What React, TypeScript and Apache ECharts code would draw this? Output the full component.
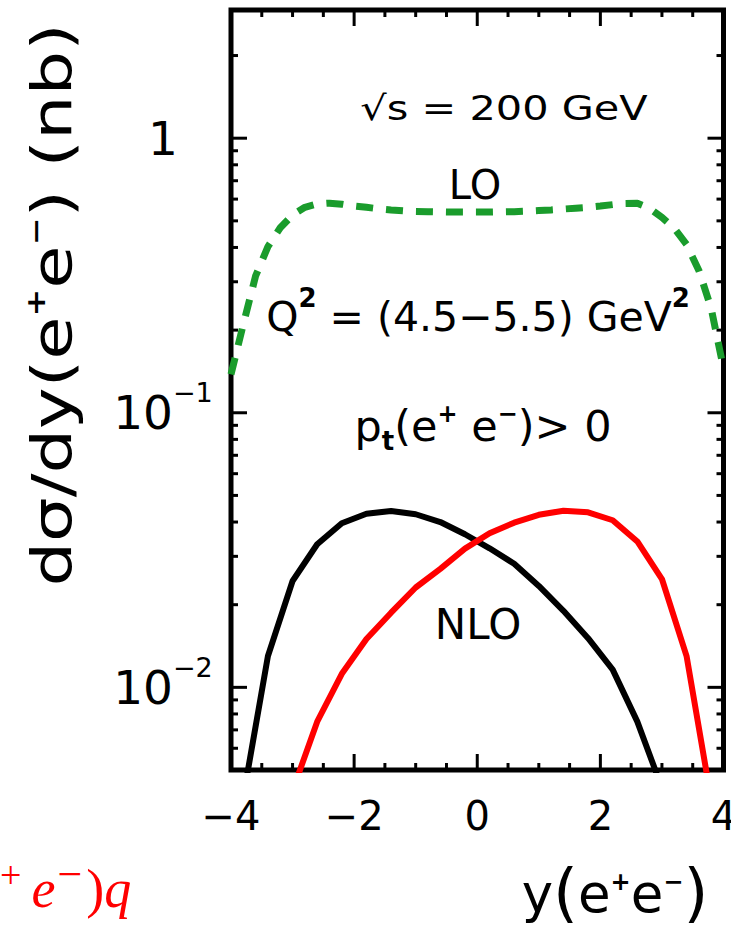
import React, { useEffect, useRef } from 'react';
import * as echarts from 'echarts';

// axis ranges
const xRange = [-4, 4];
const yRange = [0.005, 2.93];
const xTickLabels = [-4, -2, 0, 2, 4];

// NLO black curve
const nloBlackX = [-3.8, -3.4, -3.0, -2.6, -2.2, -1.8, -1.4, -1.0, -0.6, -0.2, 0.2, 0.6, 1.0, 1.4, 1.8, 2.2, 2.6, 3.0];
const nloBlackY = [0.0040, 0.0130, 0.0244, 0.0332, 0.0396, 0.0429, 0.0439, 0.0427, 0.0400, 0.0361, 0.0321, 0.0282, 0.0234, 0.0190, 0.0151, 0.0116, 0.0075, 0.0043];

// NLO red curve
const nloRedX = [-3.0, -2.6, -2.2, -1.8, -1.4, -1.0, -0.6, -0.2, 0.2, 0.6, 1.0, 1.4, 1.8, 2.2, 2.6, 3.0, 3.4, 3.8];
const nloRedY = [0.0042, 0.0075, 0.0112, 0.0150, 0.0187, 0.0231, 0.0270, 0.0320, 0.0364, 0.0398, 0.0425, 0.0440, 0.0434, 0.0406, 0.0340, 0.0248, 0.0130, 0.0039];

// LO green dashed curve
const loX = [-4.0, -3.8, -3.6, -3.4, -3.2, -3.0, -2.8, -2.6, -2.4, -2.2, -2.0, -1.8, -1.6, -1.4, -1.2, -1.0, -0.8, -0.6, -0.4, -0.2, 0.0,
  0.2, 0.4, 0.6, 0.8, 1.0, 1.2, 1.4, 1.6, 1.8, 2.0, 2.2, 2.4, 2.6, 2.8, 3.0, 3.2, 3.4, 3.6, 3.8, 4.0];
const loY = [0.138, 0.21, 0.315, 0.403, 0.472, 0.525, 0.56, 0.576, 0.58, 0.575, 0.566, 0.56, 0.553, 0.548, 0.544, 0.541, 0.540, 0.539, 0.538, 0.538, 0.538,
  0.538, 0.539, 0.540, 0.542, 0.545, 0.548, 0.552, 0.556, 0.560, 0.566, 0.573, 0.578, 0.579, 0.555, 0.515, 0.47, 0.41, 0.33, 0.24, 0.145];

// tick marks
const xMajorTicks = [-2, 0, 2];
const xMinorTicks = [-3.5, -3, -2.5, -1.5, -1, -0.5, 0.5, 1, 1.5, 2.5, 3, 3.5];
const yMajorTicks = [0.01, 0.1, 1];
const yMinorTicks = [0.006, 0.007, 0.008, 0.009, 0.02, 0.03, 0.04, 0.05, 0.06, 0.07, 0.08, 0.09,
  0.2, 0.3, 0.4, 0.5, 0.6, 0.7, 0.8, 0.9, 2];

const FONT = "'DejaVu Sans', sans-serif";
const SERIF = "'Liberation Serif', 'DejaVu Serif', serif";

export default function App() {
  const ref = useRef<HTMLDivElement>(null);
  useEffect(() => {
    const chart = echarts.init(ref.current!, null, { renderer: 'svg' });
    const tickData = [
      ...xMajorTicks.map((v) => [v, yRange[0], 0]),
      ...xMinorTicks.map((v) => [v, yRange[0], 1]),
      ...yMajorTicks.map((v) => [xRange[0], v, 2]),
      ...yMinorTicks.map((v) => [xRange[0], v, 3]),
    ];
    const option: any = {
      animation: false,
      grid: {
        left: 231, top: 10, width: 492.5, height: 760,
        outerBoundsMode: 'none', containLabel: false,
        show: true, borderWidth: 5, borderColor: '#000', backgroundColor: 'transparent',
      },
      xAxis: {
        type: 'value', min: xRange[0], max: xRange[1], interval: 2,
        axisLine: { show: false }, axisTick: { show: false }, splitLine: { show: false },
        axisLabel: {
          margin: 26, fontSize: 40, fontFamily: FONT, color: '#000',
          alignMinLabel: 'center', alignMaxLabel: 'center',
          formatter: (v: number) => (xTickLabels.includes(v) ? (v < 0 ? '\u2212' + Math.abs(v) : String(v)) : ''),
        },
      },
      yAxis: {
        type: 'log', logBase: 10, min: yRange[0], max: yRange[1],
        axisLine: { show: false }, axisTick: { show: false }, splitLine: { show: false },
        axisLabel: {
          showMinLabel: false, showMaxLabel: false, margin: 68, align: 'center',
          formatter: (v: number) => {
            const e = Math.round(Math.log10(v));
            if (e === 0) return '{b|1}';
            return '{b|10}{s|\u2212' + -e + '}';
          },
          rich: {
            b: { fontSize: 47, lineHeight: 47, fontFamily: FONT, color: '#000' },
            s: { fontSize: 27, lineHeight: 27, fontFamily: FONT, color: '#000', padding: [0, 0, 40, 0] },
          },
        },
      },
      series: [
        {
          type: 'custom', silent: true, z: 1,
          data: tickData,
          encode: { x: 0, y: 1 },
          renderItem: (params: any, api: any) => {
            const v0 = api.value(0);
            const v1 = api.value(1);
            const kind = api.value(2);
            const style = { stroke: '#000', lineWidth: 3 };
            if (kind < 2) {
              const len = kind === 0 ? 16 : 7;
              const b = api.coord([v0, yRange[0]]);
              const t = api.coord([v0, yRange[1]]);
              return {
                type: 'group', children: [
                  { type: 'line', shape: { x1: b[0], y1: b[1], x2: b[0], y2: b[1] - len }, style },
                  { type: 'line', shape: { x1: t[0], y1: t[1], x2: t[0], y2: t[1] + len }, style },
                ],
              };
            }
            const len = kind === 2 ? 16 : 7;
            const l = api.coord([xRange[0], v1]);
            const r = api.coord([xRange[1], v1]);
            return {
              type: 'group', children: [
                { type: 'line', shape: { x1: l[0], y1: l[1], x2: l[0] + len, y2: l[1] }, style },
                { type: 'line', shape: { x1: r[0], y1: r[1], x2: r[0] - len, y2: r[1] }, style },
              ],
            };
          },
        },
        {
          type: 'line', name: 'LO', z: 3, showSymbol: false, symbol: 'none', clip: true,
          data: loX.map((x, i) => [x, loY[i]]),
          lineStyle: { color: '#1a9c2c', width: 7, type: [17, 13] },
        },
        {
          type: 'line', name: 'NLO', z: 3, showSymbol: false, symbol: 'none', clip: true,
          data: nloBlackX.map((x, i) => [x, nloBlackY[i]]),
          lineStyle: { color: '#000000', width: 6 },
        },
        {
          type: 'line', name: 'NLO red', z: 3, showSymbol: false, symbol: 'none', clip: true,
          data: nloRedX.map((x, i) => [x, nloRedY[i]]),
          lineStyle: { color: '#ff0000', width: 6 },
        },
      ],
      graphic: [
        {
          type: 'text', x: 504, y: 108, scaleX: 1.22, z: 10,
          style: { text: '\u221As = 200 GeV', fontSize: 34, fontFamily: FONT, fill: '#000', align: 'center', verticalAlign: 'middle' },
        },
        {
          type: 'text', x: 475, y: 185, z: 10,
          style: { text: 'LO', fontSize: 40, fontFamily: FONT, fill: '#000', align: 'center', verticalAlign: 'middle' },
        },
        {
          type: 'text', x: 478, y: 317, z: 10,
          style: {
            text: '{m|Q}{s|2}{m| = (4.5\u22125.5) GeV}{s|2}', align: 'center', verticalAlign: 'middle',
            rich: {
              m: { fontSize: 41, lineHeight: 41, fontFamily: FONT, fill: '#000' },
              s: { fontSize: 26, lineHeight: 26, fontFamily: FONT, fontWeight: 'bold', fill: '#000', padding: [0, 0, 38, 0] },
            },
          },
        },
        {
          type: 'text', x: 483, y: 426, z: 10,
          style: {
            text: '{m|p}{b|t}{m|(e}{s|+}{m| e}{s|\u2212}{m|)> 0}', align: 'center', verticalAlign: 'middle',
            rich: {
              m: { fontSize: 43, lineHeight: 43, fontFamily: FONT, fill: '#000' },
              b: { fontSize: 26, lineHeight: 26, fontFamily: FONT, fontWeight: 'bold', fill: '#000', padding: [30, 0, 0, 0] },
              s: { fontSize: 24, lineHeight: 24, fontFamily: FONT, fontWeight: 'bold', fill: '#000', padding: [0, 0, 24, 0] },
            },
          },
        },
        {
          type: 'text', x: 478, y: 624, z: 10,
          style: { text: 'NLO', fontSize: 42, fontFamily: FONT, fill: '#000', align: 'center', verticalAlign: 'middle' },
        },
        {
          type: 'text', x: 52, y: 305, rotation: Math.PI / 2, scaleX: 1.28, z: 10,
          style: {
            text: '{m|d\u03C3/dy(e}{s|+}{m|e}{s|\u2212}{m|) (nb)}', align: 'center', verticalAlign: 'middle',
            rich: {
              m: { fontSize: 55, lineHeight: 55, fontFamily: FONT, fill: '#000' },
              s: { fontSize: 26, lineHeight: 26, fontFamily: FONT, fontWeight: 'bold', fill: '#000', padding: [0, 0, 32, 0] },
            },
          },
        },
        {
          type: 'text', x: 615, y: 893, z: 10,
          style: {
            text: '{m|y}{p|(}{m|e}{s|+}{m|e}{s|\u2212}{p|)}', align: 'center', verticalAlign: 'middle',
            rich: {
              m: { fontSize: 53, lineHeight: 53, fontFamily: FONT, fill: '#000' },
              p: { fontSize: 64, lineHeight: 64, fontFamily: FONT, fill: '#000' },
              s: { fontSize: 24, lineHeight: 24, fontFamily: FONT, fontWeight: 'bold', fill: '#000', padding: [0, 0, 22, 0] },
            },
          },
        },
        {
          type: 'text', x: 0, y: 889, z: 10,
          style: {
            text: '{a|+}{i|e}{c|\u2212}{r|)}{i|q}', align: 'left', verticalAlign: 'middle',
            rich: {
              a: { fontSize: 38, lineHeight: 38, fontFamily: SERIF, fill: '#ff0000', padding: [0, 10, 28, 0] },
              i: { fontSize: 54, lineHeight: 54, fontFamily: SERIF, fontStyle: 'italic', fill: '#ff0000' },
              c: { fontSize: 44, lineHeight: 44, fontFamily: SERIF, fill: '#ff0000', padding: [0, 0, 30, 2] },
              r: { fontSize: 54, lineHeight: 54, fontFamily: SERIF, fill: '#ff0000', padding: [0, 0, 0, 4] },
            },
          },
        },
      ],
    };
    chart.setOption(option);
    return () => chart.dispose();
  }, []);
  return <div ref={ref} style={{ position: 'absolute', left: 0, top: 0, width: 731, height: 932 }} />;
}
